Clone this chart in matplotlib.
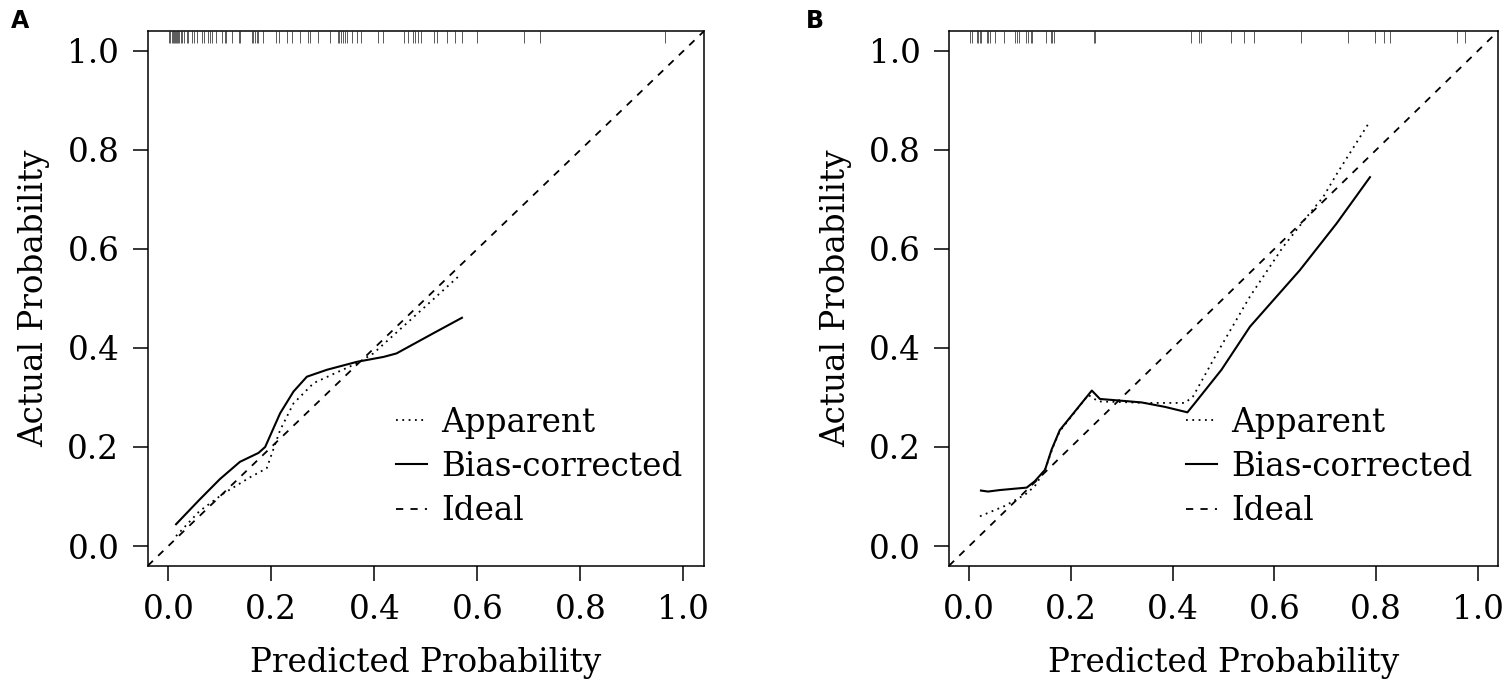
import matplotlib
matplotlib.use("Agg")
import matplotlib.pyplot as plt
import numpy as np

plt.rcParams['font.family'] = ['DejaVu Serif']
plt.rcParams['font.size'] = 23.5

# ---------------- data ----------------
# Panel A
a_app_x = [0.015, 0.06, 0.107, 0.159, 0.191, 0.217, 0.243, 0.282, 0.330, 0.366, 0.398, 0.463, 0.566]
a_app_y = [0.020, 0.070, 0.106, 0.139, 0.157, 0.234, 0.288, 0.329, 0.352, 0.369, 0.389, 0.450, 0.547]
a_bc_x = [0.015, 0.06, 0.10, 0.139, 0.175, 0.188, 0.217, 0.243, 0.269, 0.308, 0.366, 0.418, 0.443, 0.515, 0.570]
a_bc_y = [0.044, 0.093, 0.135, 0.170, 0.188, 0.200, 0.268, 0.312, 0.342, 0.356, 0.372, 0.382, 0.389, 0.430, 0.461]
a_rug = [0.002, 0.004, 0.0066, 0.0085, 0.0105, 0.013, 0.015, 0.017, 0.019, 0.021, 0.024, 0.027,
         0.031, 0.036, 0.039, 0.045, 0.05, 0.055, 0.065, 0.07, 0.078, 0.081, 0.084, 0.092, 0.104,
         0.11, 0.112, 0.123, 0.138, 0.139, 0.162, 0.165, 0.168, 0.172, 0.175, 0.183, 0.21, 0.215,
         0.23, 0.24, 0.256, 0.272, 0.275, 0.291, 0.314, 0.329, 0.332, 0.335, 0.34, 0.343, 0.346,
         0.356, 0.366, 0.375, 0.408, 0.416, 0.458, 0.466, 0.476, 0.479, 0.485, 0.49, 0.515, 0.521,
         0.542, 0.557, 0.57, 0.6, 0.691, 0.722, 0.964]

# Panel B
b_app_x = [0.021, 0.070, 0.110, 0.129, 0.149, 0.165, 0.178, 0.234, 0.254, 0.293, 0.346, 0.424,
           0.440, 0.487, 0.552, 0.617, 0.664, 0.696, 0.723, 0.785]
b_app_y = [0.060, 0.081, 0.104, 0.121, 0.154, 0.201, 0.232, 0.305, 0.292, 0.291, 0.289, 0.289,
           0.302, 0.389, 0.504, 0.604, 0.665, 0.705, 0.752, 0.853]
b_bc_x = [0.023, 0.037, 0.060, 0.113, 0.129, 0.149, 0.162, 0.178, 0.241, 0.257, 0.293, 0.339,
          0.385, 0.429, 0.444, 0.496, 0.552, 0.650, 0.722, 0.788]
b_bc_y = [0.112, 0.110, 0.113, 0.118, 0.131, 0.154, 0.195, 0.234, 0.314, 0.297, 0.294, 0.290,
          0.281, 0.270, 0.289, 0.356, 0.443, 0.557, 0.651, 0.745]
b_rug = [0.001, 0.005, 0.015, 0.018, 0.021, 0.024, 0.034, 0.037, 0.041, 0.05, 0.069, 0.089, 0.093,
         0.097, 0.111, 0.116, 0.122, 0.124, 0.15, 0.161, 0.163, 0.167, 0.246, 0.248, 0.437, 0.451,
         0.456, 0.514, 0.541, 0.56, 0.652, 0.744, 0.798, 0.815, 0.828, 0.959, 0.974]

ticks = [0.0, 0.2, 0.4, 0.6, 0.8, 1.0]
tick_labels = ["0.0", "0.2", "0.4", "0.6", "0.8", "1.0"]
legend_labels = ["Apparent", "Bias-corrected", "Ideal"]

panels = [
    dict(letter="A", app=(a_app_x, a_app_y), bc=(a_bc_x, a_bc_y), rug=a_rug,
         pos=[0.0977, 0.1788, 0.3679, 0.776], leg=(0.447, 0.072), lx=0.007),
    dict(letter="B", app=(b_app_x, b_app_y), bc=(b_bc_x, b_bc_y), rug=b_rug,
         pos=[0.6276, 0.1788, 0.3632, 0.776], leg=(0.432, 0.072), lx=0.533),
]

fig = plt.figure(figsize=(15.12, 6.89), dpi=100)

for p in panels:
    ax = fig.add_axes(p["pos"])
    ax.set_xlim(-0.04, 1.04)
    ax.set_ylim(-0.04, 1.04)
    l_app, = ax.plot(p["app"][0], p["app"][1], color="black", lw=1.3,
                     linestyle=(0, (1, 2.5)), label=legend_labels[0])
    l_bc, = ax.plot(p["bc"][0], p["bc"][1], color="black", lw=1.5,
                    linestyle="-", label=legend_labels[1])
    l_id = ax.axline((0, 0), (1, 1), color="black", lw=1.3,
                     linestyle=(0, (4, 4)), label=legend_labels[2])
    # rug at top
    ax.vlines(p["rug"], 1 - 12 / 536, 1, transform=ax.get_xaxis_transform(),
              color="0.35", lw=0.7)
    ax.set_xticks(ticks)
    ax.set_xticklabels(tick_labels)
    ax.set_yticks(ticks)
    ax.set_yticklabels(tick_labels)
    ax.tick_params(direction="out", length=10.5, width=1.1, pad=10)
    for s in ax.spines.values():
        s.set_linewidth(1.1)
    ax.set_xlabel("Predicted Probability", labelpad=15)
    ax.set_ylabel("Actual Probability", labelpad=12)
    ax.legend(handles=[l_app, l_bc, l_id], loc="lower left",
              bbox_to_anchor=p["leg"], frameon=False, borderpad=0, borderaxespad=0,
              handlelength=0.95, handletextpad=0.42, labelspacing=0.38)
    fig.text(p["lx"], 0.987, p["letter"], fontfamily="DejaVu Sans", fontweight="bold",
             fontsize=17, va="top", ha="left")

fig.savefig("out.png", dpi=100)
